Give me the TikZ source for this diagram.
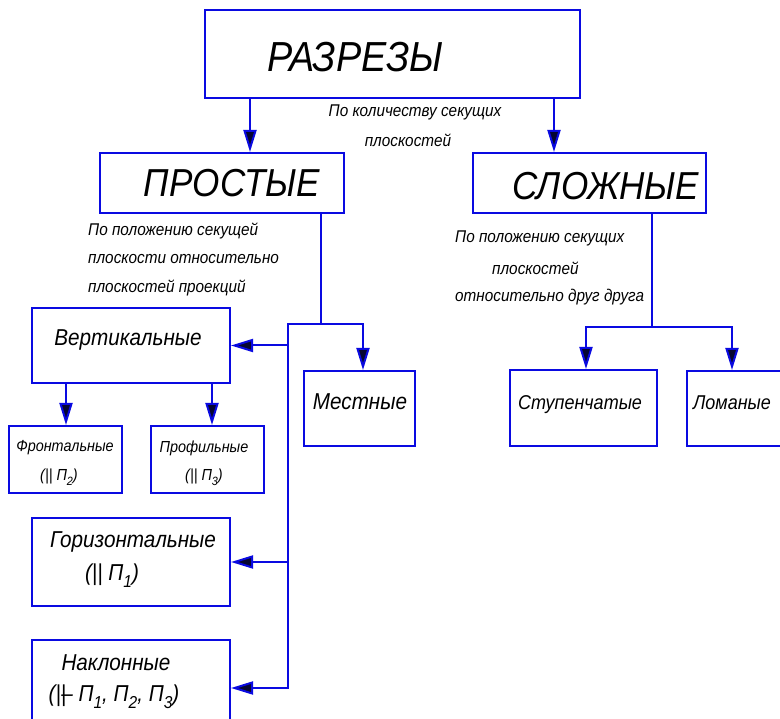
\documentclass[tikz,border=0pt]{standalone}
\usepackage{fontspec}
\setmainfont{Liberation Sans}[FakeStretch=0.9]
\usepackage{tikz}
\usetikzlibrary{arrows.meta}

\definecolor{lineblue}{RGB}{10,10,225}
\definecolor{tipfill}{RGB}{5,5,50}

\newcommand{\idx}[1]{\raisebox{-0.3em}{\scalebox{0.75}{#1}}}
\newcommand{\notpar}{\rlap{||}\kern0.25em--}

\tikzset{
  box/.style={draw=lineblue, line width=2pt, inner sep=0pt},
  con/.style={draw=lineblue, line width=2pt, line cap=rect},
  arr/.style={draw=lineblue, line width=2pt, -{Triangle[length=22pt,width=13pt,fill=tipfill]}},
  title/.style={inner sep=0pt, font=\itshape\fontsize{42}{46}\selectfont},
  head/.style={inner sep=0pt, font=\itshape\fontsize{39}{43}\selectfont},
  label/.style={inner sep=0pt, font=\itshape\fontsize{23}{26}\selectfont},
  sublabel/.style={inner sep=0pt, font=\itshape\fontsize{16}{19}\selectfont},
  note/.style={inner sep=0pt, font=\itshape\fontsize{17}{20}\selectfont},
}

\begin{document}
\begin{tikzpicture}[x=1pt, y=-1pt]
			\path[use as bounding box, clip] (0,0) rectangle (780,719);
			% blocks
			\node[box, minimum width=375pt, minimum height=88pt] (razrezy) at (392.5,54) {};
			\node[box, minimum width=244pt, minimum height=60pt] (prostye) at (222,183) {};
			\node[box, minimum width=233pt, minimum height=60pt] (slozhnye) at (589.5,183) {};
			\node[box, minimum width=198pt, minimum height=75pt] (vert) at (131,345.5) {};
			\node[box, minimum width=113pt, minimum height=67pt] (front) at (65.5,459.5) {};
			\node[box, minimum width=113pt, minimum height=67pt] (profil) at (207.5,459.5) {};
			\node[box, minimum width=111pt, minimum height=75pt] (mestnye) at (359.5,408.5) {};
			\node[box, minimum width=198pt, minimum height=88pt] (gorizont) at (131,562) {};
			\node[box, minimum width=198pt, minimum height=96pt] (naklon) at (131,688) {};
			\node[box, minimum width=147pt, minimum height=76pt] (stupen) at (583.5,408) {};
			\node[box, minimum width=103pt, minimum height=75pt] (loman) at (738.5,408.5) {};
			% texts
			\node[title] (razrezyT) at (355,57) {РАЗРЕЗЫ};
			\node[head] (prostyeT) at (232,183) {ПРОСТЫЕ};
			\node[head] (slozhnyeT) at (606,186) {СЛОЖНЫЕ};
			\node[label] (vertT) at (128,340) {Вертикальные};
			\node[sublabel] (frontT) at (65,448) {Фронтальные};
			\node[sublabel] (frontP) at (59,477) {(|| П\idx{2})};
			\node[sublabel] (profilT) at (204,448) {Профильные};
			\node[sublabel] (profilP) at (204,477) {(|| П\idx{3})};
			\node[label] (mestnyeT) at (360,402) {Местные};
			\node[label] (gorizontT) at (133,542) {Горизонтальные};
			\node[label] (gorizontP) at (112,576) {(|| П\idx{1})};
			\node[label] (naklonT) at (116,663) {Наклонные};
			\node[label] (naklonP) at (114,697) {(\notpar{} П\idx{1}, П\idx{2}, П\idx{3})};
			\node[label, font=\itshape\fontsize{20}{24}\selectfont] (stupenT) at (580,405) {Ступенчатые};
			\node[label, font=\itshape\fontsize{20}{24}\selectfont] (lomanT) at (732,403) {Ломаные};
			% notes
			\node[note] (n1a) at (415,112) {По количеству секущих};
			\node[note] (n1b) at (408,140) {плоскостей};
			\node[note, anchor=west] (n2a) at (88,231) {По положению секущей};
			\node[note, anchor=west] (n2b) at (88,259) {плоскости относительно};
			\node[note, anchor=west] (n2c) at (88,288) {плоскостей проекций};
			\node[note, anchor=west] (n3a) at (455,238) {По положению секущих};
			\node[note, anchor=west] (n3b) at (492,268) {плоскостей};
			\node[note, anchor=west] (n3c) at (455,297) {относительно друг друга};
			% connectors
			\coordinate (pj) at (321,324);
			\coordinate (pl) at (288,324);
			\coordinate (pr) at (363,324);
			\coordinate (sj) at (652,327);
			\coordinate (sl) at (586,327);
			\coordinate (sr) at (732,327);
			\draw[arr] (250,0 |- razrezy.south) -- (250,0 |- prostye.north);
			\draw[arr] (554,0 |- razrezy.south) -- (554,0 |- slozhnye.north);
			\draw[con] (pj |- prostye.south) -- (pj);
			\draw[con] (pl |- naklon.east) -- (pl) -- (pr);
			\draw[arr] (pr) -- (pr |- mestnye.north);
			\draw[arr] (pl |- vert.east) -- (vert.east);
			\draw[arr] (pl |- gorizont.east) -- (gorizont.east);
			\draw[arr] (pl |- naklon.east) -- (naklon.east);
			\draw[arr] (66,0 |- vert.south) -- (66,0 |- front.north);
			\draw[arr] (212,0 |- vert.south) -- (212,0 |- profil.north);
			\draw[con] (sj |- slozhnye.south) -- (sj);
			\draw[con] (sl) -- (sr);
			\draw[arr] (sl) -- (sl |- stupen.north);
			\draw[arr] (sr) -- (sr |- loman.north);
		\end{tikzpicture}
\end{document}
